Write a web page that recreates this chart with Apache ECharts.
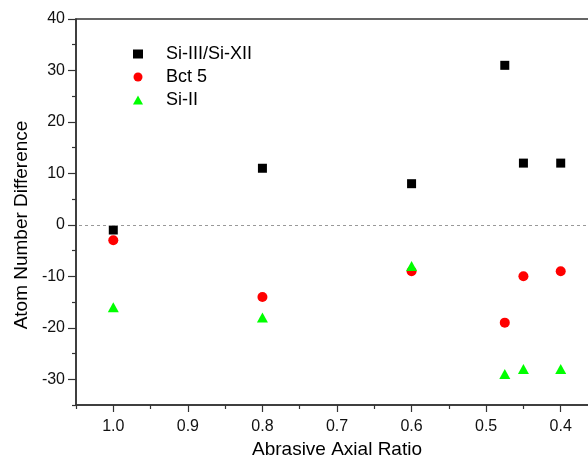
<!DOCTYPE html>
<html>
<head>
<meta charset="utf-8">
<script src="https://cdn.jsdelivr.net/npm/echarts@6/dist/echarts.min.js"></script>
<style>
html, body { margin: 0; padding: 0; background: #fff; }
#chart { width: 588px; height: 459px; }
</style>
</head>
<body>
<div id="chart"></div>
<script>
// data
var axialRatio = [1.0, 0.8, 0.6, 0.475, 0.45, 0.4];
var siIIIXII = [-1, 11, 8, 31, 12, 12];
var bct5 = [-3, -14, -9, -19, -10, -9];
var siII = [-16, -18, -8, -29, -28, -28];

var xMajor = [1.0, 0.9, 0.8, 0.7, 0.6, 0.5, 0.4];
var xMinor = [1.05, 0.95, 0.85, 0.75, 0.65, 0.55, 0.45, 0.35];
var yMajor = [-30, -20, -10, 0, 10, 20, 30, 40];
var yMinor = [-35, -25, -15, -5, 5, 15, 25, 35];

function pairs(ys) {
    return axialRatio.map(function (x, i) { return [x, ys[i]]; });
}

var font = '"Liberation Sans", Arial, sans-serif';
var axisColor = '#333';

var myChart = echarts.init(document.getElementById('chart'));
var option = {
    animation: false,
    backgroundColor: '#fff',
    textStyle: { fontFamily: font },
    grid: {
        left: 76, right: -10, top: 19, bottom: 54,
        show: true, borderColor: axisColor, borderWidth: 1.5,
        containLabel: false,
        outerBoundsMode: 'none'
    },
    legend: {
        orient: 'vertical',
        left: 128, top: 40,
        itemWidth: 10, itemHeight: 9,
        itemGap: 5,
        symbolKeepAspect: true,
        textStyle: { fontSize: 18, color: '#000', fontFamily: font, lineHeight: 18, padding: [0, 0, 0, 18] },
        data: ['Si-III/Si-XII', 'Bct 5', 'Si-II']
    },
    xAxis: [
        {
            type: 'value', inverse: true, min: 0.35, max: 1.05,
            name: 'Abrasive Axial Ratio', nameLocation: 'middle', nameGap: 33,
            nameTextStyle: { fontSize: 19, color: '#000', fontFamily: font },
            axisLine: { onZero: false, lineStyle: { color: axisColor, width: 1.5 } },
            axisTick: { customValues: xMajor, length: 7, lineStyle: { color: axisColor, width: 1.2 } },
            axisLabel: {
                customValues: xMajor, margin: 14, fontSize: 16, color: '#111', fontFamily: font,
                formatter: function (v) { return v.toFixed(1); }
            },
            splitLine: { show: false }
        },
        {
            type: 'value', inverse: true, min: 0.35, max: 1.05, position: 'bottom',
            axisLine: { show: false, onZero: false },
            axisTick: { customValues: xMinor, length: 4, lineStyle: { color: axisColor, width: 1.2 } },
            axisLabel: { show: false },
            splitLine: { show: false }
        }
    ],
    yAxis: [
        {
            type: 'value', min: -35, max: 40,
            name: 'Atom Number Difference', nameLocation: 'middle', nameGap: 45,
            nameTextStyle: { fontSize: 19, color: '#000', fontFamily: font, padding: [0, 26, 0, 0] },
            axisLine: { show: true, onZero: false, lineStyle: { color: axisColor, width: 1.5 } },
            axisTick: { show: true, customValues: yMajor, length: 8, lineStyle: { color: axisColor, width: 1.2 } },
            axisLabel: { customValues: yMajor, margin: 11, fontSize: 16, color: '#111', fontFamily: font },
            splitLine: { show: false }
        },
        {
            type: 'value', min: -35, max: 40, position: 'left',
            axisLine: { show: false, onZero: false },
            axisTick: { show: true, customValues: yMinor, length: 4, lineStyle: { color: axisColor, width: 1.2 } },
            axisLabel: { show: false },
            splitLine: { show: false }
        }
    ],
    series: [
        {
            name: 'Si-III/Si-XII', type: 'scatter', symbol: 'rect', symbolSize: 9,
            itemStyle: { color: '#000', opacity: 1 },
            data: pairs(siIIIXII),
            markLine: {
                silent: true, symbol: 'none', label: { show: false },
                lineStyle: { color: '#999', type: [3, 3], width: 1 },
                data: [{ yAxis: 0 }]
            }
        },
        {
            name: 'Bct 5', type: 'scatter', symbol: 'circle', symbolSize: 10,
            itemStyle: { color: '#ff0000', opacity: 1 },
            data: pairs(bct5)
        },
        {
            name: 'Si-II', type: 'scatter', symbol: 'triangle', symbolSize: [11, 10],
            itemStyle: { color: '#00ff00', opacity: 1 },
            data: pairs(siII)
        }
    ]
};
myChart.setOption(option);
</script>
</body>
</html>
